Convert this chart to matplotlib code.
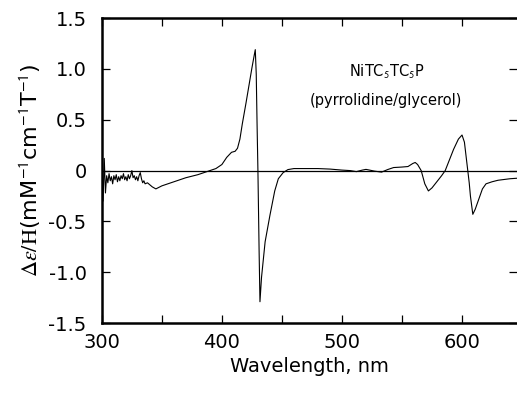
import matplotlib
matplotlib.use("Agg")
import matplotlib.pyplot as plt
from matplotlib.ticker import MultipleLocator

# MCD spectrum (nm, delta-eps/H)
wavelength = [300, 301, 302, 303, 304, 305, 306, 307, 308, 309, 310, 311, 312, 313,
              314, 315, 316, 317, 318, 319, 320, 321, 322, 323, 324, 325, 326, 327,
              328, 329, 330, 331, 332, 333, 334, 335, 336, 338, 340, 342, 345, 350,
              360, 370, 380, 390, 395, 400, 404, 408, 411, 413, 415, 417, 420, 423,
              425, 427, 427.8, 428.6, 429.3, 430, 431, 431.7, 433, 436, 440, 444,
              447, 451, 455, 460, 470, 480, 490, 500, 507, 512, 517, 520, 523, 527,
              533, 538, 543, 550, 555, 559, 561, 563, 566, 569, 572, 575, 579, 583,
              586, 590, 593, 597, 600, 602, 604, 606, 607, 609, 611, 614, 617, 620,
              625, 630, 640, 646]
signal = [0.05, -0.30, 0.12, -0.22, -0.05, -0.12, -0.03, -0.10, -0.06, -0.13, -0.05,
          -0.09, -0.04, -0.11, -0.06, -0.10, -0.05, -0.08, -0.03, -0.09, -0.06, -0.10,
          -0.04, -0.08, -0.05, 0.00, -0.07, -0.05, -0.09, -0.06, -0.10, -0.05, -0.02,
          -0.08, -0.12, -0.10, -0.13, -0.12, -0.14, -0.16, -0.18, -0.15, -0.11, -0.07,
          -0.04, 0.00, 0.02, 0.06, 0.13, 0.18, 0.19, 0.22, 0.31, 0.46, 0.66, 0.87,
          1.01, 1.14, 1.19, 0.95, 0.45, 0.00, -0.80, -1.29, -1.05, -0.70, -0.44,
          -0.20, -0.08, -0.02, 0.01, 0.02, 0.02, 0.02, 0.015, 0.005, 0.00, -0.01,
          0.005, 0.012, 0.005, -0.005, -0.015, 0.01, 0.03, 0.035, 0.04, 0.07, 0.08,
          0.06, 0.00, -0.13, -0.20, -0.17, -0.11, -0.05, 0.00, 0.12, 0.21, 0.31, 0.35,
          0.28, 0.08, -0.12, -0.25, -0.43, -0.38, -0.28, -0.18, -0.13, -0.11, -0.095,
          -0.08, -0.075]

x_labels = ["300", "400", "500", "600"]
y_labels = ["-1.5", "-1.0", "-0.5", "0", "0.5", "1.0", "1.5"]

plt.rcParams['mathtext.fontset'] = 'stix'

fig = plt.figure(figsize=(5.17, 3.94), dpi=100)
ax = fig.add_axes([0.197, 0.180, 0.803, 0.774])

ax.plot(wavelength, signal, color='black', lw=0.8)
ax.axhline(0, color='black', lw=0.9)

ax.set_xlim(300, 645.8)
ax.set_ylim(-1.5, 1.5)

ax.set_xticks([300, 400, 500, 600])
ax.set_xticklabels(x_labels)
ax.xaxis.set_minor_locator(MultipleLocator(50))
ax.set_yticks([-1.5, -1.0, -0.5, 0, 0.5, 1.0, 1.5])
ax.set_yticklabels(y_labels)

ax.tick_params(which='both', direction='in', top=True, right=True, length=6, width=0.9)
ax.tick_params(axis='x', labelsize=14, pad=7)
ax.tick_params(axis='y', labelsize=14, pad=11)

for side in ['left', 'top', 'bottom']:
    ax.spines[side].set_linewidth(1.8)
ax.spines['right'].set_visible(False)

ax.set_xlabel("Wavelength, nm", fontsize=14, labelpad=4)
ax.set_ylabel(r"$\Delta\varepsilon/\mathrm{H}$(mM$^{\mathsf{-1}}$cm$^{\mathsf{-1}}$T$^{\mathsf{-1}}$)",
              fontsize=16, labelpad=4)

ax.text(537, 0.97, r"NiTC$_{\mathsf{5}}$TC$_{\mathsf{5}}$P", ha='center', va='center', fontsize=10.5)
ax.text(537, 0.69, "(pyrrolidine/glycerol)", ha='center', va='center', fontsize=10.5)

fig.savefig("out.png", dpi=100)
